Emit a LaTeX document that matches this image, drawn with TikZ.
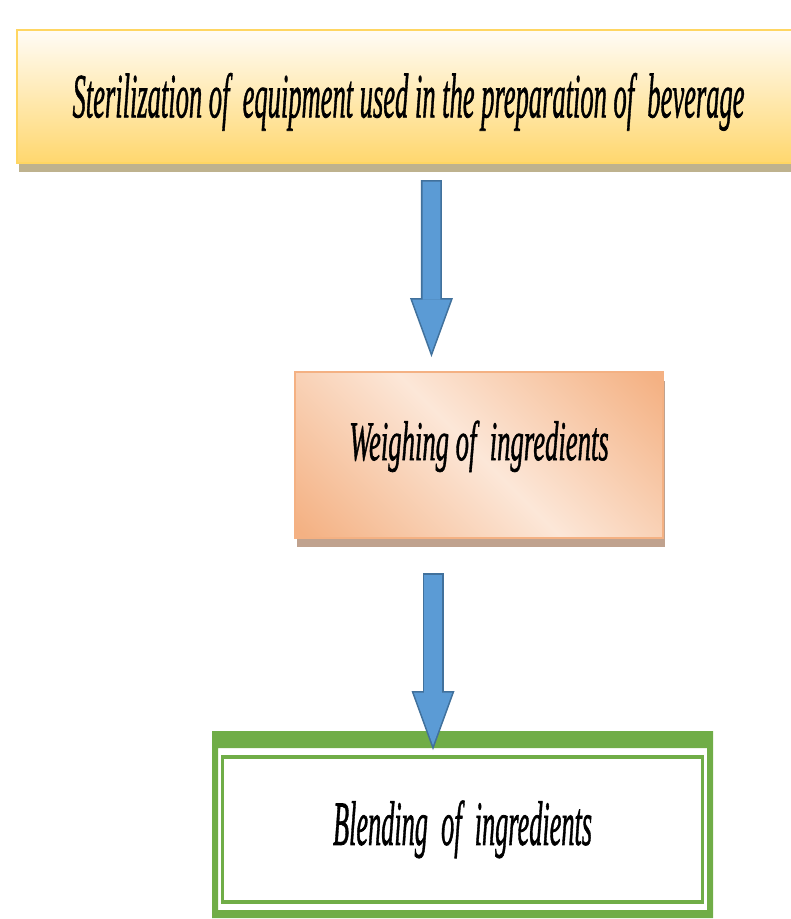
\documentclass[tikz,border=0pt]{standalone}
\usepackage{fontspec}
\setmainfont{Liberation Serif}
\newfontfamily\boxfont{Liberation Serif}[FakeBold=1.3]
\usetikzlibrary{arrows.meta, positioning, shadows, calc}

\definecolor{yellowD}{RGB}{255,214,98}
\definecolor{yellowL}{RGB}{255,252,246}
\definecolor{yellowM}{RGB}{255,240,200}
\definecolor{yellowB}{RGB}{255,215,110}
\definecolor{shadowY}{RGB}{190,178,142}
\definecolor{peachD}{RGB}{244,177,131}
\definecolor{peachL}{RGB}{252,231,216}
\definecolor{shadowP}{RGB}{192,162,142}
\definecolor{greenB}{RGB}{112,173,71}
\definecolor{arrfill}{RGB}{91,155,213}
\definecolor{arrline}{RGB}{65,113,156}

\pgfdeclarehorizontalshading{peachdiag}{100bp}{color(0bp)=(peachD); color(16bp)=(peachD); color(50bp)=(peachL); color(84bp)=(peachD); color(100bp)=(peachD)}

\tikzset{
    base/.style = {rectangle, outer sep=0pt, inner sep=0pt, font=\boxfont\fontsize{20}{24}\selectfont\itshape},
    sterbox/.style = {base, draw=yellowD, line width=2pt, top color=yellowL, middle color=yellowM, bottom color=yellowB,
        drop shadow={shadow xshift=1.5pt, shadow yshift=-7pt, fill=shadowY, opacity=1}},
    weighbox/.style = {base, draw=peachD, line width=1.5pt, shade, shading=peachdiag, shading angle=45,
        drop shadow={shadow xshift=1.5pt, shadow yshift=-7pt, fill=shadowP, opacity=1}},
    blendbox/.style = {base, fill=white},
    frame/.style = {fill=greenB, even odd rule},
    innerline/.style = {draw=greenB, line width=2.6pt},
    bigarrow/.style = {draw=arrfill, line width=13.3pt, -{Triangle[width=28.8pt, length=39.5pt, line width=0pt]},
        shorten >=3.5pt, shorten <=1.2pt,
        preaction={draw=arrline, line width=15.75pt, -{Triangle[width=32.25pt, length=44.25pt, line width=0pt]},
            shorten >=0pt, shorten <=0pt}}
}

\begin{document}
\begin{tikzpicture}[node distance=1cm]
        \useasboundingbox (0,0) rectangle (592.5pt,-689.25pt);

        % Stage 1: Sterilization
        \node (sterile) [sterbox, minimum width=587.25pt, minimum height=99.75pt, text height=31.2pt, text depth=0pt] at (306.4pt,-72.4pt)
            {\scalebox{0.994}[2.36]{Sterilization of\ \ equipment used in the preparation of\ \ beverage}};

        % Stage 2: Weighing
        \node (weigh) [weighbox, below=156.75pt of sterile, xshift=52.85pt, minimum width=276pt, minimum height=124.5pt, text height=7.6pt, text depth=0pt]
            {\scalebox{1.0}[2.1]{Weighing of\ \ ingredients}};

        % Stage 3: Blending (double green frame)
        \node (blend) [blendbox, below=157.5pt of weigh, xshift=-12.35pt, minimum width=366.75pt, minimum height=121.5pt, text height=23.7pt, text depth=0pt]
            {\scalebox{0.986}[2.36]{Blending\ \ of\ \ ingredients}};
        \fill [frame] ([shift={(-4.5pt,12.75pt)}]blend.north west) rectangle ([shift={(4.5pt,-6pt)}]blend.south east)
            (blend.north west) rectangle (blend.south east);
        \draw [innerline] ([shift={(3.4pt,-6.75pt)}]blend.north west) rectangle ([shift={(-3.4pt,6pt)}]blend.south east);

        % BLOCK ARROWS
        \draw [bigarrow] ([shift={(17.2pt,-12.75pt)}]sterile.south) -- ([shift={(-35.65pt,11.25pt)}]weigh.north);
        \draw [bigarrow] ([shift={(-34.5pt,-26.25pt)}]weigh.south) -- ([shift={(-22.15pt,-1.5pt)}]blend.north);
\end{tikzpicture}
\end{document}
